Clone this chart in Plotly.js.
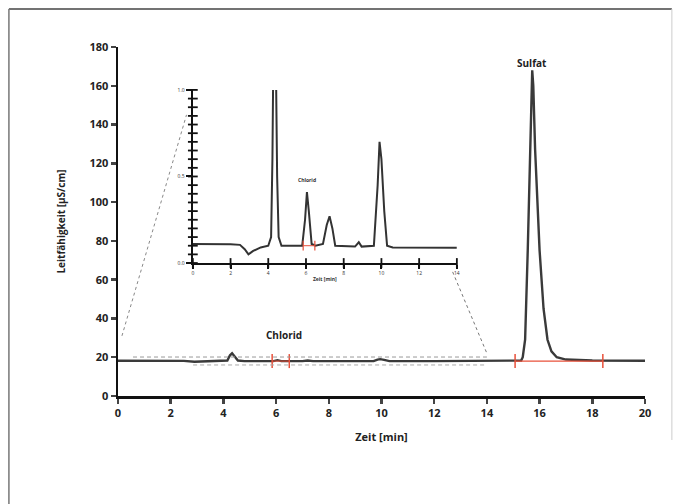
<!DOCTYPE html>
<html>
<head>
<meta charset="utf-8">
<script src="https://cdn.plot.ly/plotly-3.0.1.min.js"></script>
<style>html,body{margin:0;padding:0;background:#fff;}#chart{width:681px;height:504px;}</style>
</head>
<body>
<div id="chart"></div>
<script>
// Main chromatogram (0-20 min)
const mainTime = [0, 1, 2, 2.5, 2.9, 3.5, 4.0, 4.15, 4.25, 4.33, 4.42, 4.55, 4.8, 5.9, 6.05, 6.2, 7.0, 7.2, 7.4, 9.7, 9.85, 9.95, 10.1, 10.3, 12, 15.0, 15.3, 15.36, 15.45, 15.55, 15.64, 15.68, 15.72, 15.76, 15.83, 16.0, 16.15, 16.3, 16.45, 16.65, 17, 18, 20];
const mainCond = [18.2, 18.2, 18.1, 18.1, 17.7, 17.9, 18.0, 18.3, 21.0, 22.0, 20.5, 18.3, 18.0, 18.0, 18.5, 18.0, 18.0, 18.3, 18.0, 18.0, 18.8, 19.0, 18.6, 18.0, 18.0, 18.0, 18.3, 20, 29, 75, 127, 160, 168, 160, 127, 75, 45, 29, 23, 20, 18.8, 18.3, 18.2];

// Inset chromatogram (0-14 min, zoomed)
const insetTime = [0, 1, 2, 2.5, 2.75, 2.95, 3.2, 3.6, 4.0, 4.15, 4.22, 4.27, 4.4, 4.47, 4.55, 4.7, 5.8, 5.95, 6.05, 6.15, 6.3, 6.5, 6.9, 7.1, 7.25, 7.4, 7.55, 8.6, 8.8, 8.95, 9.6, 9.8, 9.9, 10.0, 10.15, 10.3, 10.6, 14];
const insetCond = [0.11, 0.11, 0.108, 0.105, 0.08, 0.05, 0.07, 0.09, 0.10, 0.15, 0.6, 1.2, 1.2, 0.5, 0.15, 0.10, 0.10, 0.25, 0.41, 0.30, 0.11, 0.10, 0.11, 0.22, 0.27, 0.20, 0.10, 0.095, 0.12, 0.095, 0.10, 0.45, 0.70, 0.60, 0.30, 0.10, 0.09, 0.088];

// Integration limits
const chloridLimits = [5.85, 6.5];
const chloridBase = [18, 18];
const sulfatLimits = [15.07, 18.4];
const sulfatBase = [18, 18];
const insetLimits = [5.85, 6.47];
const insetBase = [0.1, 0.1];

// Labels
const peakNames = ["Chlorid", "Sulfat"];
const peakLabelX = [6.3, 15.72];
const peakLabelY = [31.5, 172];
const insetLabelX = [6.05];
const insetLabelY = [0.45];

// Ticks
const mainXTicks = [0, 2, 4, 6, 8, 10, 12, 14, 16, 18, 20];
const mainYTicks = [0, 20, 40, 60, 80, 100, 120, 140, 160, 180];
const insetXTicks = [0, 2, 4, 6, 8, 10, 12, 14];
const insetYTicks = [0, 0.05, 0.1, 0.15, 0.2, 0.25, 0.3, 0.35, 0.4, 0.45, 0.5, 0.55, 0.6, 0.65, 0.7, 0.75, 0.8, 0.85, 0.9, 0.95, 1.0];

const F = "Open Sans, Liberation Sans, sans-serif";
const red = "#e8503a";

const traces = [
  {x: mainTime, y: mainCond, mode: "lines", line: {color: "#3a3a3a", width: 2.4}, xaxis: "x", yaxis: "y", hoverinfo: "skip"},
  {x: chloridLimits, y: chloridBase, mode: "lines+markers", line: {color: red, width: 1}, marker: {symbol: "line-ns", size: 10, line: {color: red, width: 1.5}}, xaxis: "x", yaxis: "y"},
  {x: sulfatLimits, y: sulfatBase, mode: "lines+markers", line: {color: red, width: 1.2}, marker: {symbol: "line-ns", size: 10, line: {color: red, width: 1.5}}, xaxis: "x", yaxis: "y"},
  {x: insetTime, y: insetCond, mode: "lines", line: {color: "#333", width: 2}, xaxis: "x2", yaxis: "y2", hoverinfo: "skip"},
  {x: insetLimits, y: insetBase, mode: "lines+markers", line: {color: red, width: 1}, marker: {symbol: "line-ns", size: 7, line: {color: red, width: 1.2}}, xaxis: "x2", yaxis: "y2"},
  // inset tick marks (drawn as markers on the inset axes)
  {x: insetYTicks.map(() => 0), y: insetYTicks, mode: "markers", cliponaxis: false, marker: {symbol: "line-ew", size: 7, line: {color: "#111", width: 1.8}}, xaxis: "x2", yaxis: "y2", hoverinfo: "skip"},
  {x: insetXTicks, y: insetXTicks.map(() => 0), mode: "markers", cliponaxis: false, marker: {symbol: "line-ns", size: 7, line: {color: "#111", width: 1.8}}, xaxis: "x2", yaxis: "y2", hoverinfo: "skip"}
];

const annotations = peakNames.map((t, i) => ({
  x: peakLabelX[i], y: peakLabelY[i], xref: "x", yref: "y", text: t, showarrow: false,
  yanchor: "middle", font: {family: F, size: 10, color: "#222", weight: "bold"}
}));
annotations.push({x: insetLabelX[0], y: insetLabelY[0], xref: "x2", yref: "y2", text: "Chlorid", showarrow: false, yanchor: "bottom", font: {family: F, size: 5, color: "#333", weight: "bold"}});

const shapes = [
  {type: "line", xref: "x", yref: "y", x0: 0.57, x1: 14, y0: 20.1, y1: 20.1, line: {color: "#999", width: 1, dash: "4px,3px"}},
  {type: "line", xref: "x", yref: "y", x0: 2.85, x1: 13.9, y0: 16, y1: 16, line: {color: "#aaa", width: 1, dash: "4px,3px"}},
  {type: "line", xref: "x", yref: "y", x0: 0.15, x1: 2.6, y0: 31, y1: 145, line: {color: "#888", width: 1, dash: "dot"}},
  {type: "line", xref: "x", yref: "y", x0: 12.7, x1: 14.0, y0: 64, y1: 22, line: {color: "#777", width: 1, dash: "dot"}},
  {type: "line", xref: "paper", yref: "paper", x0: -0.207, x1: 1.051, y0: 1.109, y1: 1.109, line: {color: "#444", width: 1.5}},
  {type: "line", xref: "paper", yref: "paper", x0: -0.207, x1: -0.207, y0: 1.109, y1: -0.32, line: {color: "#777", width: 1.5}},
  {type: "line", xref: "paper", yref: "paper", x0: 1.051, x1: 1.051, y0: 1.109, y1: -0.126, line: {color: "#ccc", width: 1}}
];

const layout = {
  width: 681, height: 504,
  margin: {l: 118, r: 36, t: 47, b: 108},
  paper_bgcolor: "#fff", plot_bgcolor: "rgba(0,0,0,0)",
  showlegend: false,
  xaxis: {
    range: [0, 20], tickvals: mainXTicks, ticks: "outside", ticklen: 5, tickwidth: 2.5,
    showline: true, linewidth: 2.5, linecolor: "#111", showgrid: false, zeroline: false,
    tickfont: {family: F, size: 11, color: "#222", weight: "bold"},
    title: {text: "Zeit [min]", font: {family: F, size: 11, color: "#222", weight: "bold"}, standoff: 15}
  },
  yaxis: {
    range: [0, 180], tickvals: mainYTicks, ticks: "outside", ticklen: 5, tickwidth: 2.5,
    showline: true, linewidth: 2.5, linecolor: "#111", showgrid: false, zeroline: false,
    tickfont: {family: F, size: 11, color: "#222", weight: "bold"},
    title: {text: "Leitfähigkeit [µS/cm]", font: {family: F, size: 10, color: "#222", weight: "bold"}, standoff: 22}
  },
  xaxis2: {
    domain: [0.142, 0.643], anchor: "y2", range: [0, 14], tickvals: insetXTicks,
    ticks: "outside", ticklen: 4, tickwidth: 2, tickcolor: "#111", showline: true, linewidth: 2.2, linecolor: "#111",
    showgrid: false, zeroline: false, tickfont: {family: F, size: 5, color: "#333"},
    title: {text: "Zeit [min]", font: {family: F, size: 5, color: "#333", weight: "bold"}, standoff: 2}
  },
  yaxis2: {
    domain: [0.381, 0.877], anchor: "x2", range: [0, 1], dtick: 0.5, tickformat: ".1f",
    ticks: "outside", ticklen: 5, tickwidth: 2, tickcolor: "#111", showline: true, linewidth: 2.2, linecolor: "#111",
    showgrid: false, zeroline: false, tickfont: {family: F, size: 5, color: "#333"}
  },
  annotations: annotations,
  shapes: shapes
};

Plotly.newPlot("chart", traces, layout, {staticPlot: true, displayModeBar: false});
</script>
</body>
</html>
